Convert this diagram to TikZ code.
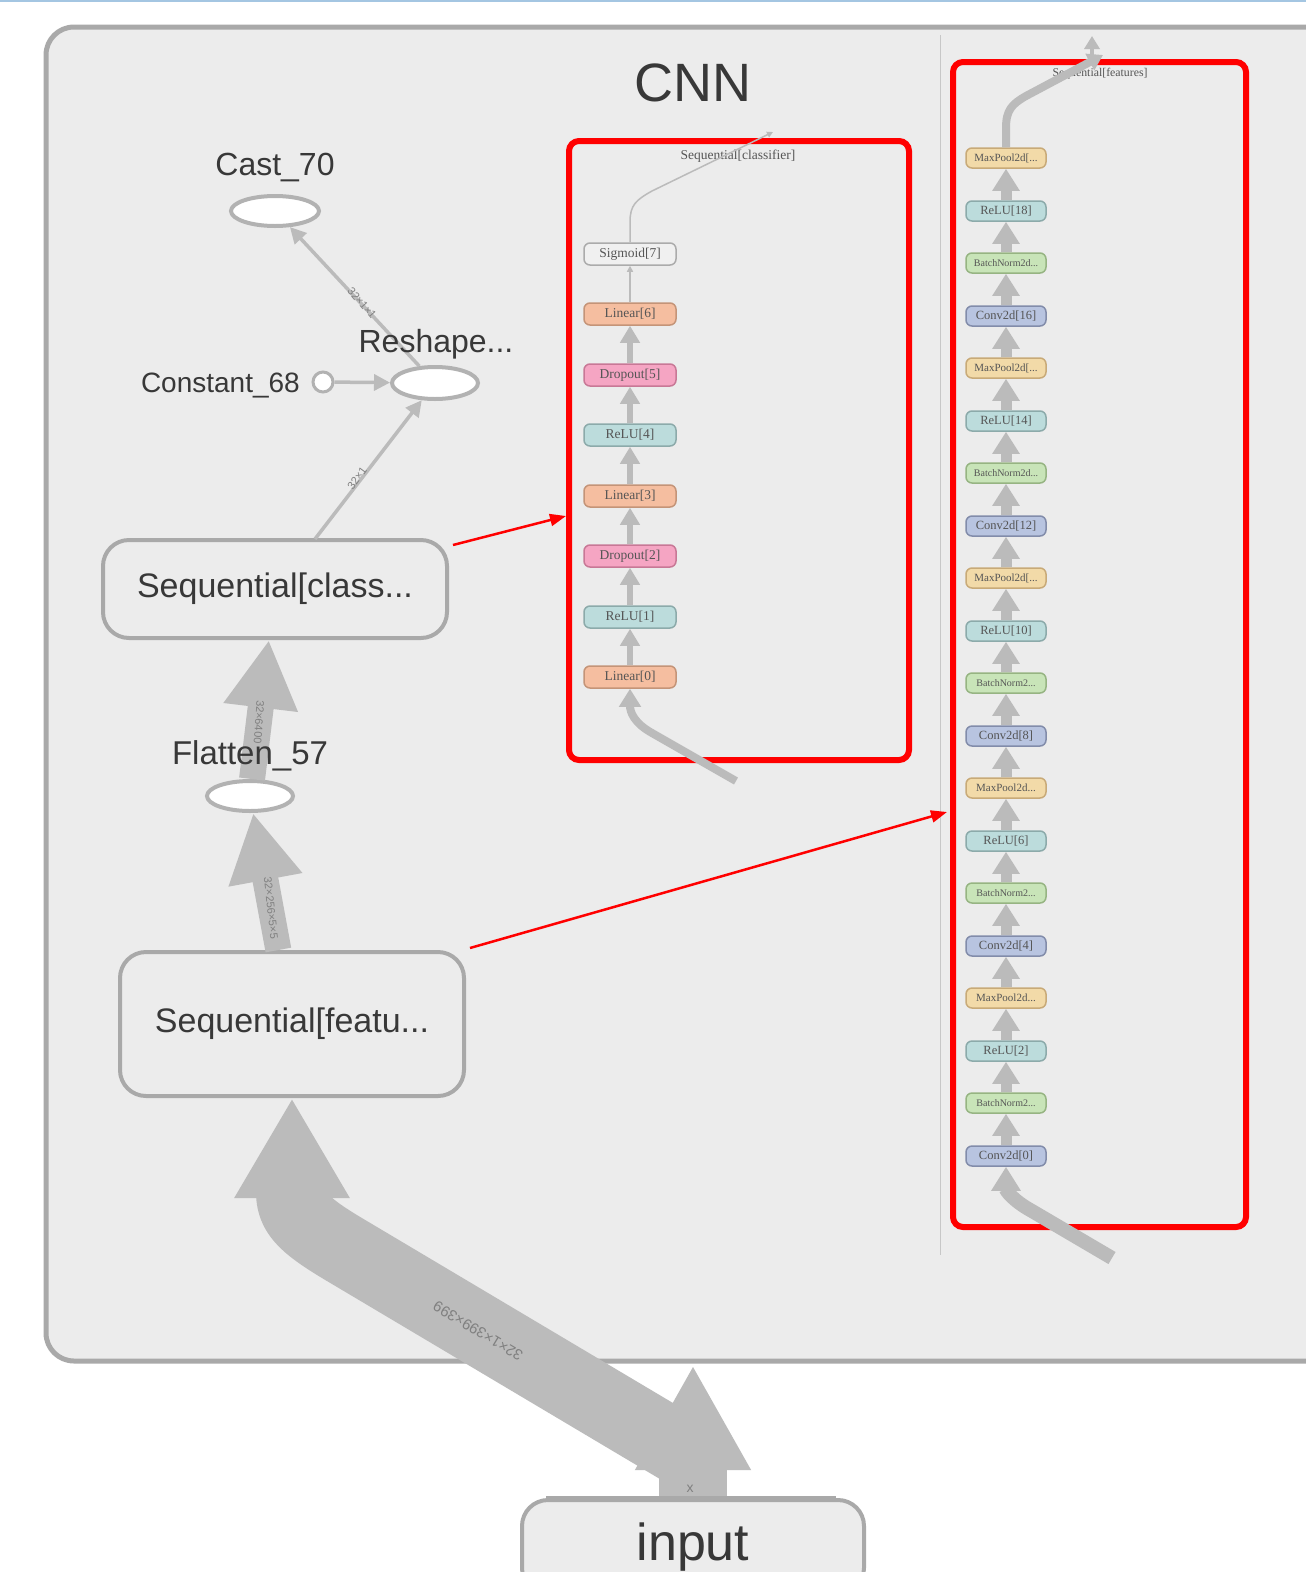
\documentclass[tikz,border=0pt]{standalone}
\usepackage{fontspec}
\setmainfont{Liberation Serif}
\setsansfont{Liberation Sans}
\usetikzlibrary{arrows.meta,shapes.geometric}

\definecolor{panelgray}{HTML}{ECECEC}
\definecolor{bordergray}{HTML}{A9A9A9}
\definecolor{edgegray}{HTML}{BBBBBB}
\definecolor{labelgray}{HTML}{383838}
\definecolor{nodetext}{HTML}{555555}
\definecolor{topblue}{HTML}{A4C6E2}
\definecolor{linfill}{HTML}{F5BEA0}
\definecolor{linline}{HTML}{C49478}
\definecolor{dropfill}{HTML}{F5A5C3}
\definecolor{dropline}{HTML}{C87896}
\definecolor{relufill}{HTML}{BCDCDC}
\definecolor{reluline}{HTML}{8CAAAA}
\definecolor{poolfill}{HTML}{F2DAA8}
\definecolor{poolline}{HTML}{C8AA78}
\definecolor{normfill}{HTML}{C8E4B8}
\definecolor{normline}{HTML}{96B482}
\definecolor{convfill}{HTML}{B8C4E0}
\definecolor{convline}{HTML}{828CAA}

\tikzset{
  panel/.style={draw=bordergray, line width=5pt, fill=panelgray, rounded corners=28pt},
  redframe/.style={draw=red, line width=6pt, rounded corners=10pt, inner sep=0pt},
  frametitle/.style={text=nodetext, inner sep=0pt},
  layer/.style={rectangle, rounded corners=6pt, draw, line width=1.5pt, inner sep=0pt, text=nodetext},
  clsnode/.style={layer, minimum width=92pt, minimum height=22pt, font=\fontsize{13.5}{14}\selectfont},
  featnode/.style={layer, minimum width=80pt, minimum height=20pt, font=\fontsize{12.5}{12}\selectfont},
  linearbox/.style={fill=linfill, draw=linline},
  dropbox/.style={fill=dropfill, draw=dropline},
  relubox/.style={fill=relufill, draw=reluline},
  sigbox/.style={fill=white!94!black, draw=black!33},
  poolbox/.style={fill=poolfill, draw=poolline, font=\fontsize{11}{11}\selectfont},
  normbox/.style={fill=normfill, draw=normline, font=\fontsize{10}{10}\selectfont},
  convbox/.style={fill=convfill, draw=convline},
  cedge/.style={draw=edgegray, line width=6pt, -{Triangle[length=17pt,width=19pt]}},
  fedge/.style={draw=edgegray, line width=11pt, -{Triangle[length=22pt,width=26pt]}},
  thinedge/.style={draw=edgegray, line width=1.5pt, -{Triangle[length=6pt,width=6pt]}},
  opellipse/.style={ellipse, draw=black!30, line width=4pt, fill=white, inner sep=0pt},
  optext/.style={font=\sffamily\fontsize{32}{32}\selectfont, text=labelgray, inner sep=0pt},
  modbox/.style={rectangle, rounded corners=26pt, draw=bordergray, line width=4pt, fill=panelgray,
    text=labelgray, inner sep=0pt, font=\sffamily\fontsize{34}{34}\selectfont},
  opedge/.style={draw=edgegray, line width=3.5pt, -{Triangle[length=16pt,width=16pt]}},
  fatedge/.style={draw=edgegray, line width=26pt, -{Triangle[length=68pt,width=70pt]}},
  bigedge/.style={draw=edgegray, line width=72pt, line join=round},
  redarrow/.style={draw=red, line width=2.5pt, -{Triangle[length=16pt,width=12pt]}},
  edgelabel/.style={font=\sffamily\fontsize{11}{11}\selectfont, text=black!50, inner sep=0pt}
}

\begin{document}
\begin{tikzpicture}[x=1pt,y=-1pt]
\useasboundingbox (0,0) rectangle (1306,1572);
\clip (0,0) rectangle (1306,1572);
\fill[white] (0,0) rectangle (1306,1572);
\draw[topblue, line width=2pt] (0,1) -- (1306,1);

% CNN group
\draw[panel] (46,27) rectangle (1390,1361);
\draw[black!22, line width=1pt] (940,35) -- (940,1255);
\node[font=\sffamily\fontsize{54}{54}\selectfont, text=labelgray, inner sep=0pt] (cnn) at (693,83) {CNN};

% expanded Sequential[classifier]
\node[redframe, minimum width=340pt, minimum height=619pt] (clsframe) at (739,450.5) {};
\node[frametitle, font=\fontsize{13.5}{14}\selectfont] (clstitle) at (738,156) {Sequential[classifier]};

\node at (630,254) [clsnode, sigbox] (sig) {Sigmoid[7]};
\node at (630,314) [clsnode, linearbox] (lin6) {Linear[6]};
\node at (630,375) [clsnode, dropbox] (drop5) {Dropout[5]};
\node at (630,435) [clsnode, relubox] (relu4) {ReLU[4]};
\node at (630,496) [clsnode, linearbox] (lin3) {Linear[3]};
\node at (630,556) [clsnode, dropbox] (drop2) {Dropout[2]};
\node at (630,617) [clsnode, relubox] (relu1) {ReLU[1]};
\node at (630,677) [clsnode, linearbox] (lin0) {Linear[0]};

\draw[cedge] (lin0) -- (relu1);
\draw[cedge] (relu1) -- (drop2);
\draw[cedge] (drop2) -- (lin3);
\draw[cedge] (lin3) -- (relu4);
\draw[cedge] (relu4) -- (drop5);
\draw[cedge] (drop5) -- (lin6);
\draw[thinedge] (lin6) -- (sig);

\coordinate (clsexit) at (773,132);
\draw[thinedge] (sig.north) -- (630,222) .. controls (630,205) and (636,200) .. (652,191) -- (clsexit);
\coordinate (clsentry) at (736,781);
\draw[cedge, line width=8pt, -{Triangle[length=18pt,width=21pt]}] (clsentry) -- (652,733)
  .. controls (634,723) and (630,712) .. (lin0.south);

% expanded Sequential[features]
\node[redframe, minimum width=293pt, minimum height=1165pt] (featframe) at (1099.5,644.5) {};
\node[frametitle, font=\fontsize{11.8}{12}\selectfont] (feattitle) at (1100,74) {Sequential[features]};

\node at (1006,158) [featnode, poolbox] (pool18) {MaxPool2d[...};
\node at (1006,211) [featnode, relubox] (relu18) {ReLU[18]};
\node at (1006,263) [featnode, normbox] (norm17) {BatchNorm2d...};
\node at (1006,316) [featnode, convbox] (conv16) {Conv2d[16]};
\node at (1006,368) [featnode, poolbox] (pool15) {MaxPool2d[...};
\node at (1006,421) [featnode, relubox] (relu14) {ReLU[14]};
\node at (1006,473) [featnode, normbox] (norm13) {BatchNorm2d...};
\node at (1006,526) [featnode, convbox] (conv12) {Conv2d[12]};
\node at (1006,578) [featnode, poolbox] (pool11) {MaxPool2d[...};
\node at (1006,631) [featnode, relubox] (relu10) {ReLU[10]};
\node at (1006,683) [featnode, normbox] (norm9) {BatchNorm2...};
\node at (1006,736) [featnode, convbox] (conv8) {Conv2d[8]};
\node at (1006,788) [featnode, poolbox] (pool7) {MaxPool2d...};
\node at (1006,841) [featnode, relubox] (relu6) {ReLU[6]};
\node at (1006,893) [featnode, normbox] (norm5) {BatchNorm2...};
\node at (1006,946) [featnode, convbox] (conv4) {Conv2d[4]};
\node at (1006,998) [featnode, poolbox] (pool3) {MaxPool2d...};
\node at (1006,1051) [featnode, relubox] (relu2) {ReLU[2]};
\node at (1006,1103) [featnode, normbox] (norm1) {BatchNorm2...};
\node at (1006,1156) [featnode, convbox] (conv0) {Conv2d[0]};

\draw[fedge] (conv0) -- (norm1);
\draw[fedge] (norm1) -- (relu2);
\draw[fedge] (relu2) -- (pool3);
\draw[fedge] (pool3) -- (conv4);
\draw[fedge] (conv4) -- (norm5);
\draw[fedge] (norm5) -- (relu6);
\draw[fedge] (relu6) -- (pool7);
\draw[fedge] (pool7) -- (conv8);
\draw[fedge] (conv8) -- (norm9);
\draw[fedge] (norm9) -- (relu10);
\draw[fedge] (relu10) -- (pool11);
\draw[fedge] (pool11) -- (conv12);
\draw[fedge] (conv12) -- (norm13);
\draw[fedge] (norm13) -- (relu14);
\draw[fedge] (relu14) -- (pool15);
\draw[fedge] (pool15) -- (conv16);
\draw[fedge] (conv16) -- (norm17);
\draw[fedge] (norm17) -- (relu18);
\draw[fedge] (relu18) -- (pool18);

\coordinate (featexit) at (1103,55);
\draw[fedge, line width=8pt, -{Triangle[length=15pt,width=18pt]}] (pool18.north) -- (1006,128)
  .. controls (1006,110) and (1012,104) .. (1026,96) -- (featexit);
\coordinate (featoutlow) at (1092,62);
\coordinate (featout) at (1092,36);
\draw[fedge, line width=4pt, -{Triangle[length=13pt,width=15pt]}] (featoutlow) -- (featout);
\coordinate (featentry) at (1112,1258);
\draw[fedge, line width=14pt, -{Triangle[length=24pt,width=28pt]}] (featentry) -- (1032,1211)
  .. controls (1012,1200) and (1006,1190) .. (conv0.south);

% graph of the CNN group
\node at (275,211) [opellipse, minimum width=88pt, minimum height=30pt] (cast) {};
\node at (435,383) [opellipse, minimum width=86pt, minimum height=32pt] (reshape) {};
\node at (323,382) [circle, draw=black!30, line width=3pt, fill=white, minimum size=20pt, inner sep=0pt] (const) {};
\node at (250,796) [opellipse, minimum width=86pt, minimum height=30pt] (flat) {};
\node at (275,589) [modbox, minimum width=344pt, minimum height=98pt] (scls) {Sequential[class...};
\node at (292,1024) [modbox, minimum width=344pt, minimum height=144pt] (sfeat) {Sequential[featu...};
\node at (693,1547) [modbox, minimum width=342pt, minimum height=94pt, font=\sffamily\fontsize{52}{52}\selectfont] (input) {input};

\draw[opedge] (const) -- (reshape);
\draw[opedge] (reshape) -- (cast);
\coordinate (sclsout) at (315,539);
\draw[opedge] (sclsout) -- (reshape);
\draw[fatedge] (flat) -- (scls);
\draw[fatedge] (sfeat) -- (flat);

\node at (362,303) [edgelabel, rotate=-49] (lblcast) {32×1×1};
\node at (357,478) [edgelabel, rotate=54] (lblreshape) {32×1};
\node at (259,722) [edgelabel, rotate=-94] (lblflat) {32×6400};
\node at (271,908) [edgelabel, rotate=-84] (lblfeat) {32×256×5×5};

% op names sit on top of the edges
\node at (275,168) [optext] (casttext) {Cast\_70};
\node at (436,344) [optext] (reshapetext) {Reshape...};
\node at (300,385) [optext, anchor=east, font=\sffamily\fontsize{28}{28}\selectfont] (consttext) {Constant\_68};
\node at (250,756) [optext, font=\sffamily\fontsize{33}{33}\selectfont] (flattext) {Flatten\_57};

% input into the group
\draw[bigedge, line width=68pt, -{Triangle[length=105pt,width=108pt]}] (input.north) -- (693,1365);
\coordinate (bigstart) at (690,1455);
\draw[bigedge, -{Triangle[length=100pt,width=108pt]}] (bigstart) -- (352,1254)
  .. controls (306,1227) and (292,1215) .. (292,1192) -- (sfeat.south);
\node at (478,1331) [edgelabel, font=\sffamily\fontsize{15}{15}\selectfont, rotate=149] (lblinput) {32×1×399×399};
\node at (690,1489) [edgelabel, font=\sffamily\fontsize{14}{14}\selectfont] (lblx) {x};
\draw[bordergray, line width=4pt] (input.north west) ++(26,0) -- ++(290,0);

% red pointers to the expanded views
\coordinate (clsfrom) at (453,545);
\coordinate (clsto) at (566,516);
\draw[redarrow] (clsfrom) -- (clsto);
\coordinate (featfrom) at (470,948);
\coordinate (featto) at (947,812);
\draw[redarrow] (featfrom) -- (featto);
\end{tikzpicture}
\end{document}
